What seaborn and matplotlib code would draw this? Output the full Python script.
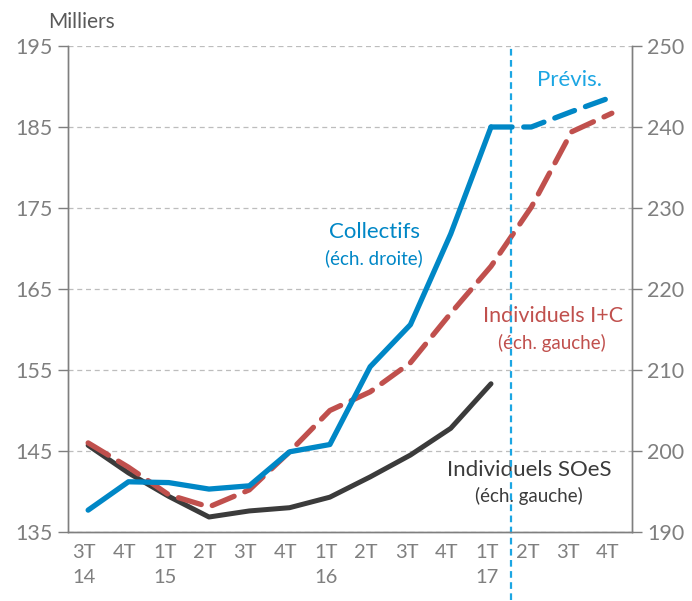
import numpy as np
import pandas as pd
import seaborn as sns
import matplotlib.pyplot as plt
import matplotlib.transforms as mtrans

# Quarter labels (x axis)
quarters = ["3T\n14", "4T", "1T\n15", "2T", "3T", "4T", "1T\n16", "2T", "3T", "4T",
            "1T\n17", "2T", "3T", "4T"]

# Individuels SOeS (left axis, thousands) - observed up to 1T17
soes = [145.7, 142.3, 139.4, 136.85, 137.6, 138.0, 139.3, 141.8, 144.5, 147.8, 153.3]
# Individuels I+C (left axis) - whole period
indiv_ic = [146.0, 143.0, 139.6, 138.1, 140.2, 144.9, 150.0, 152.3, 155.9, 162.0,
            167.8, 175.1, 184.4, 186.7]
# Collectifs (right axis) - observed and forecast
collectifs = [192.7, 196.2, 196.1, 195.3, 195.7, 199.9, 200.8, 210.4, 215.6, 226.8, 240.0]
collectifs_prev = [240.0, 240.0, 241.9, 243.7]

BLUE = "#0087c6"
RED = "#c0504d"
DARK = "#3b3b3b"
GREY = "#7f7f7f"
LIGHTBLUE = "#1ca6e3"

sns.set_style("white")
plt.rcParams["font.family"] = ["Lato", "DejaVu Sans"]

x = np.arange(len(quarters))
df_soes = pd.DataFrame({"x": x[:len(soes)], "y": soes})
df_ic = pd.DataFrame({"x": x, "y": indiv_ic})
df_col = pd.DataFrame({"x": x[:len(collectifs)], "y": collectifs})
df_prev = pd.DataFrame({"x": x[len(collectifs) - 1:], "y": collectifs_prev})

fig = plt.figure(figsize=(6.92, 6.01), dpi=100)
ax = fig.add_axes([68 / 692, 1 - 532 / 601, 564 / 692, 486 / 601])
ax2 = ax.twinx()

# left axis series
sns.lineplot(data=df_soes, x="x", y="y", ax=ax, color=DARK, lw=3.6,
             solid_capstyle="round", zorder=3)
sns.lineplot(data=df_ic, x="x", y="y", ax=ax, color=RED, lw=3.8, zorder=4)
ax.lines[-1].set_dashes((4.5, 2.2))
ax.lines[-1].set_dash_capstyle("round")

# right axis series
sns.lineplot(data=df_col, x="x", y="y", ax=ax2, color=BLUE, lw=3.8,
             solid_capstyle="round", zorder=3)
sns.lineplot(data=df_prev, x="x", y="y", ax=ax2, color=BLUE, lw=3.8, zorder=3)
ax2.lines[-1].set_dashes((4, 2.2))
ax2.lines[-1].set_dash_capstyle("round")

ax.set_xlim(-0.5, len(quarters) - 0.5)
ax.set_ylim(135, 195)
ax2.set_ylim(190, 250)
ax.set_yticks(range(135, 196, 10))
ax2.set_yticks(range(190, 251, 10))
ax.yaxis.grid(True, color="#bdbdbd", ls=(0, (4, 3)), lw=0.9)
ax.set_axisbelow(True)

ax.set_xticks(x)
ax.set_xticklabels(quarters, linespacing=1.55, ha="center", va="top")
ax.set_xticks(np.arange(-0.5, len(quarters), 1), minor=True)
ax.tick_params(axis="x", which="major", length=0, pad=9, labelsize=14.5, colors=GREY)
ax.tick_params(axis="x", which="minor", length=6, width=1, color=GREY, direction="inout")
ax.tick_params(axis="y", length=7, width=1, color=GREY, labelsize=15.5, labelcolor=GREY, pad=4)
ax2.tick_params(axis="y", length=7, width=1, color=GREY, labelsize=15.5, labelcolor=GREY, pad=4)
# shift labels a bit left like the original
offset = mtrans.ScaledTranslation(-4 / 100, 0, fig.dpi_scale_trans)
for lab in ax.get_xticklabels():
    lab.set_transform(lab.get_transform() + offset)
    lab.set_multialignment("left")

for a in (ax, ax2):
    a.set_xlabel("")
    a.set_ylabel("")
    a.spines["top"].set_visible(False)
    for s in ("left", "right", "bottom"):
        a.spines[s].set_color(GREY)
        a.spines[s].set_linewidth(1)

# forecast separator
ax.axvline(10.5, ymin=-0.14, ymax=1.0, color=LIGHTBLUE, lw=1.6, ls=(0, (3, 2)),
           clip_on=False, zorder=5)

# annotations
ax.text(48 / 692, 1 - 22 / 601, "Milliers", transform=fig.transFigure, fontsize=15,
        color="#595959", va="center", ha="left")
ax2.text(7.1, 227.0, "Collectifs", color=BLUE, fontsize=16, ha="center", va="center")
ax2.text(7.1, 223.8, "(éch. droite)", color=BLUE, fontsize=13.5, ha="center", va="center")
ax2.text(11.95, 245.8, "Prévis.", color=LIGHTBLUE, fontsize=16, ha="center", va="center")
ax.text(11.55, 161.7, "Individuels I+C", color=RED, fontsize=15.5, ha="center", va="center")
ax.text(11.5, 158.3, "(éch. gauche)", color=RED, fontsize=13.5, ha="center", va="center")
ax.text(10.95, 142.7, "Individuels SOeS", color=DARK, fontsize=16, ha="center", va="center")
ax.text(10.95, 139.4, "(éch. gauche)", color=DARK, fontsize=13.5, ha="center", va="center")

fig.savefig("out.png", dpi=100)
